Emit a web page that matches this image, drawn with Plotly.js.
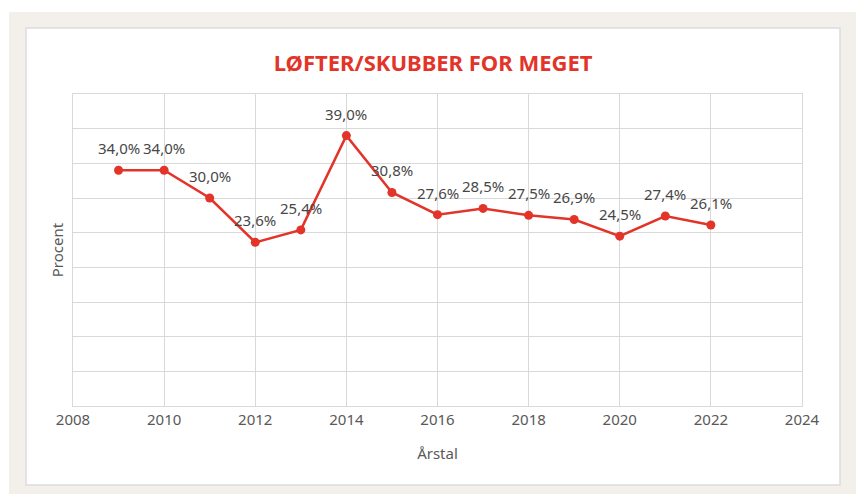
<!DOCTYPE html>
<html>
<head>
<meta charset="utf-8">
<script src="https://cdn.plot.ly/plotly-3.0.1.min.js"></script>
<style>html,body{margin:0;padding:0;background:#fff;}#chart{width:861px;height:494px;}</style>
</head>
<body>
<div id="chart"></div>
<script>
var years = [2009, 2010, 2011, 2012, 2013, 2014, 2015, 2016, 2017, 2018, 2019, 2020, 2021, 2022];
var values = [34.0, 34.0, 30.0, 23.6, 25.4, 39.0, 30.8, 27.6, 28.5, 27.5, 26.9, 24.5, 27.4, 26.1];
var xTicks = [2008, 2010, 2012, 2014, 2016, 2018, 2020, 2022, 2024];
var labels = values.map(function(v){ return v.toFixed(1).replace('.', ',') + '%'; });

var red = '#e3342a';
var grid = '#d9d9d9';
var fontFam = '"Noto Sans", "Open Sans", sans-serif';

var trace = {
  x: years, y: values,
  type: 'scatter', mode: 'lines+markers',
  line: {color: red, width: 2.5},
  marker: {color: red, size: 9},
  cliponaxis: false,
  hoverinfo: 'skip'
};

var annotations = years.map(function(yr, i){
  return {
    x: yr, y: values[i], xref: 'x', yref: 'y',
    text: labels[i], showarrow: false,
    xanchor: 'center', yanchor: 'middle', yshift: 22,
    font: {family: fontFam, size: 15, color: '#474747'}
  };
});

var layout = {
  width: 861, height: 494,
  margin: {l: 73, r: 59, t: 94, b: 88},
  paper_bgcolor: '#ffffff',
  plot_bgcolor: 'rgba(0,0,0,0)',
  showlegend: false,
  title: {
    text: 'LØFTER/SKUBBER FOR MEGET',
    font: {family: fontFam, size: 22, color: red, weight: 'bold'},
    x: 0.503, xref: 'container', xanchor: 'center',
    y: 1 - 63/494, yref: 'container', yanchor: 'middle'
  },
  xaxis: {
    range: [2008, 2024], tickvals: xTicks, ticktext: xTicks.map(String),
    showgrid: true, gridcolor: grid, gridwidth: 1,
    showline: true, linecolor: grid, linewidth: 1, mirror: true,
    zeroline: false, ticks: '',
    tickfont: {family: fontFam, size: 15, color: '#595959'},
    title: {text: 'Årstal', font: {family: fontFam, size: 15, color: '#595959'}, standoff: 20}
  },
  yaxis: {
    range: [0, 45], dtick: 5, showticklabels: false,
    showgrid: true, gridcolor: grid, gridwidth: 1,
    showline: true, linecolor: grid, linewidth: 1, mirror: true,
    zeroline: false, ticks: '',
    title: {text: 'Procent', font: {family: fontFam, size: 15, color: '#595959'}, standoff: 4}
  },
  annotations: annotations,
  shapes: [
    {type: 'rect', xref: 'paper', yref: 'paper', layer: 'below',
     x0: -64/729, x1: 783/729, y0: -88/312, y1: 394/312,
     fillcolor: '#f3f0eb', line: {width: 0}},
    {type: 'rect', xref: 'paper', yref: 'paper', layer: 'below',
     x0: -47/729, x1: 767/729, y0: -79/312, y1: 378/312,
     fillcolor: '#ffffff', line: {color: '#dcdcdc', width: 1.5}}
  ]
};

Plotly.newPlot('chart', [trace], layout, {displayModeBar: false, staticPlot: true});
</script>
</body>
</html>
